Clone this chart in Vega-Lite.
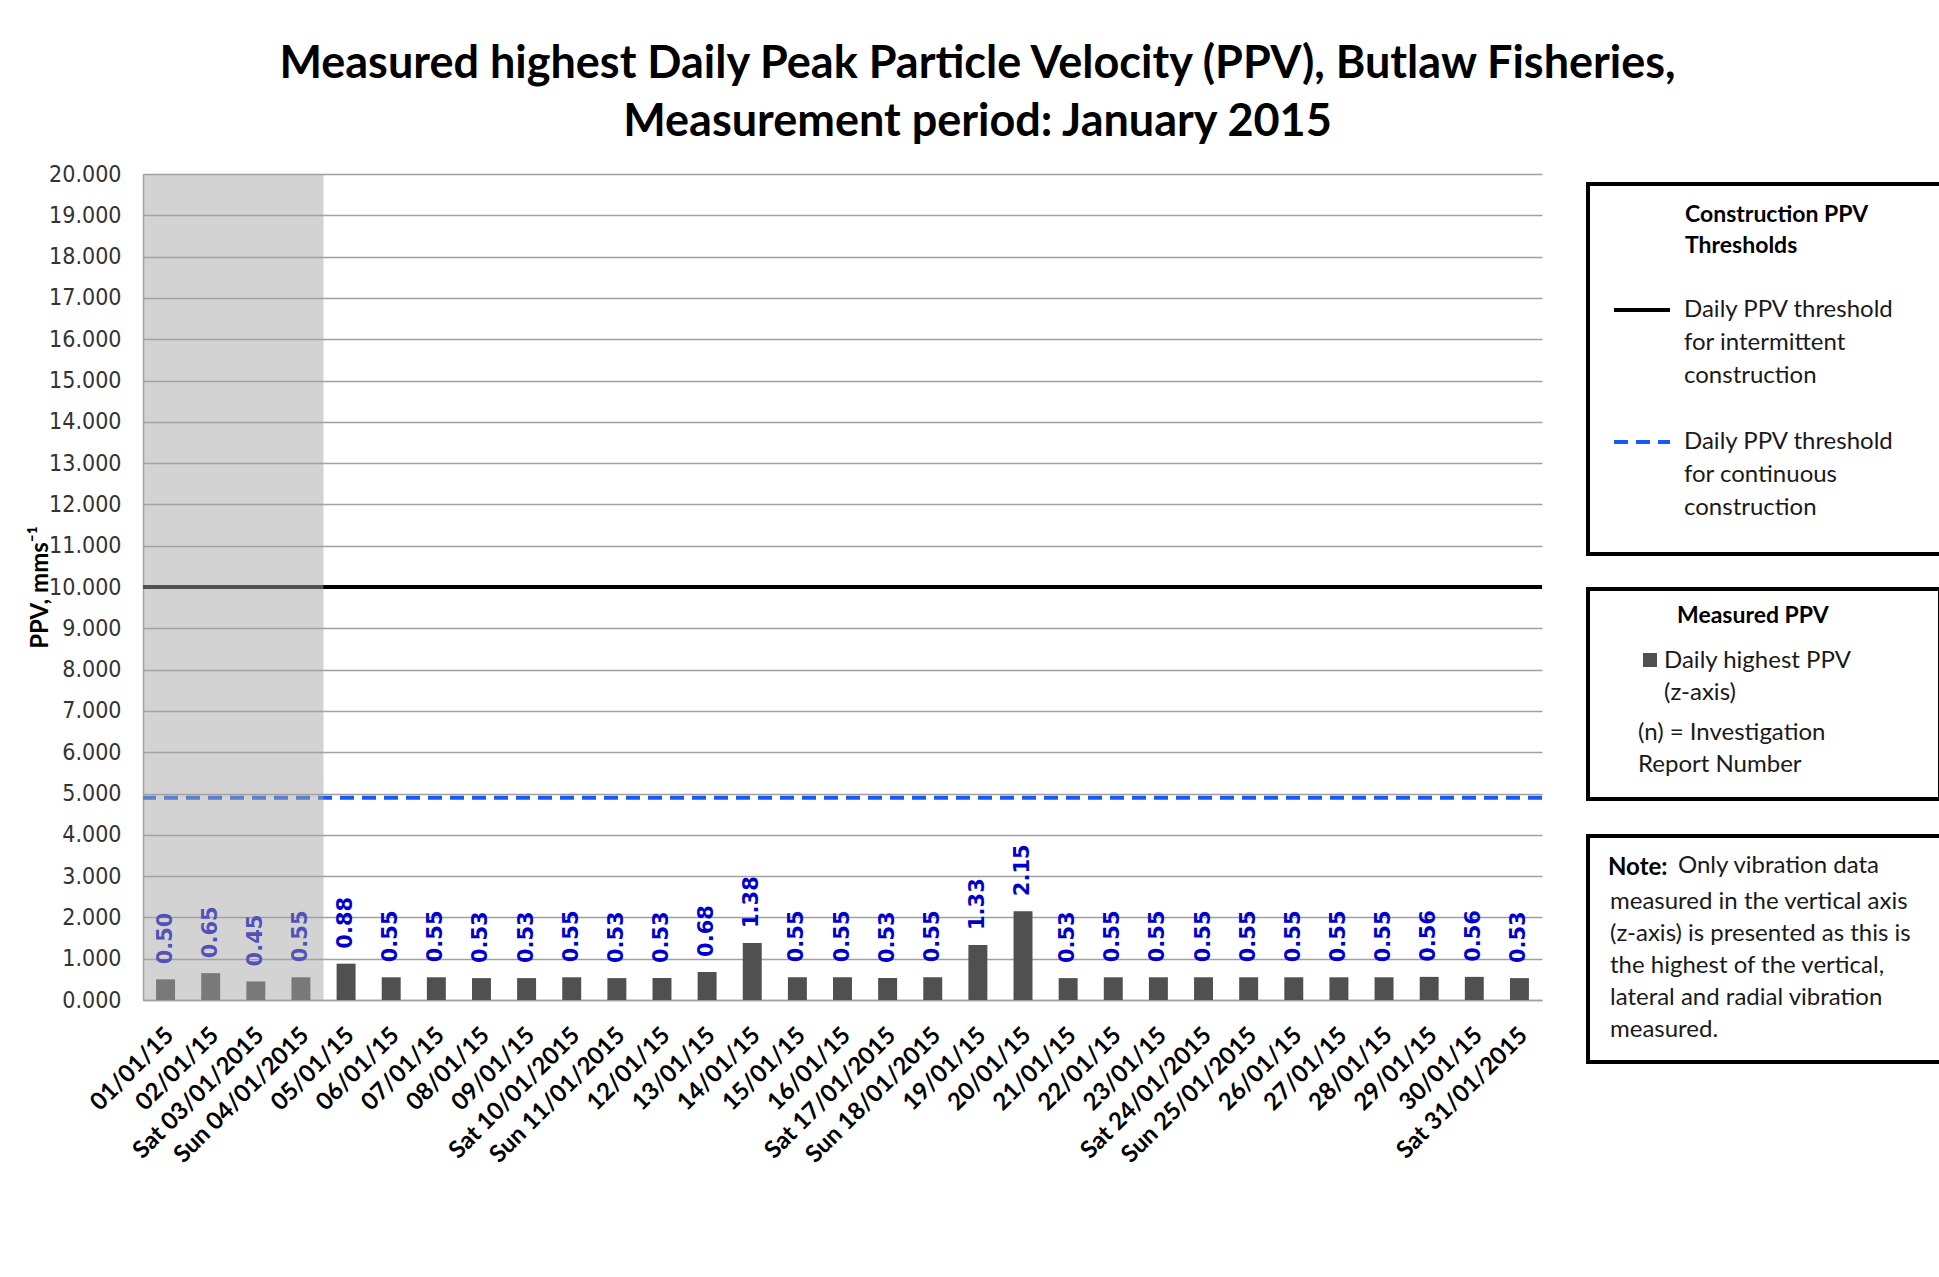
{
  "$schema": "https://vega.github.io/schema/vega-lite/v6.json",
  "width": 1399,
  "height": 826,
  "autosize": {"type": "none"},
  "padding": {"left": 143, "top": 174, "right": 397, "bottom": 277},
  "background": "white",
  "title": {
    "text": ["Measured highest Daily Peak Particle Velocity (PPV), Butlaw Fisheries,", "Measurement period: January 2015"],
    "font": "Lato", "fontSize": 45, "fontWeight": "bold", "color": "#000000",
    "anchor": "middle", "frame": "group", "dx": 135, "offset": 18, "lineHeight": 58
  },
  "data": {"values": [
    {"day": "01/01/15", "ppv": 0.50},
    {"day": "02/01/15", "ppv": 0.65},
    {"day": "Sat 03/01/2015", "ppv": 0.45},
    {"day": "Sun 04/01/2015", "ppv": 0.55},
    {"day": "05/01/15", "ppv": 0.88},
    {"day": "06/01/15", "ppv": 0.55},
    {"day": "07/01/15", "ppv": 0.55},
    {"day": "08/01/15", "ppv": 0.53},
    {"day": "09/01/15", "ppv": 0.53},
    {"day": "Sat 10/01/2015", "ppv": 0.55},
    {"day": "Sun 11/01/2015", "ppv": 0.53},
    {"day": "12/01/15", "ppv": 0.53},
    {"day": "13/01/15", "ppv": 0.68},
    {"day": "14/01/15", "ppv": 1.38},
    {"day": "15/01/15", "ppv": 0.55},
    {"day": "16/01/15", "ppv": 0.55},
    {"day": "Sat 17/01/2015", "ppv": 0.53},
    {"day": "Sun 18/01/2015", "ppv": 0.55},
    {"day": "19/01/15", "ppv": 1.33},
    {"day": "20/01/15", "ppv": 2.15},
    {"day": "21/01/15", "ppv": 0.53},
    {"day": "22/01/15", "ppv": 0.55},
    {"day": "23/01/15", "ppv": 0.55},
    {"day": "Sat 24/01/2015", "ppv": 0.55},
    {"day": "Sun 25/01/2015", "ppv": 0.55},
    {"day": "26/01/15", "ppv": 0.55},
    {"day": "27/01/15", "ppv": 0.55},
    {"day": "28/01/15", "ppv": 0.55},
    {"day": "29/01/15", "ppv": 0.56},
    {"day": "30/01/15", "ppv": 0.56},
    {"day": "Sat 31/01/2015", "ppv": 0.53}
  ]},
  "layer": [
    {
      "mark": {"type": "bar", "width": {"band": 0.42}},
      "encoding": {
        "x": {
          "field": "day", "type": "nominal", "sort": null, "title": null,
          "scale": {"paddingInner": 0, "paddingOuter": 0, "domain": ["01/01/15","02/01/15","Sat 03/01/2015","Sun 04/01/2015","05/01/15","06/01/15","07/01/15","08/01/15","09/01/15","Sat 10/01/2015","Sun 11/01/2015","12/01/15","13/01/15","14/01/15","15/01/15","16/01/15","Sat 17/01/2015","Sun 18/01/2015","19/01/15","20/01/15","21/01/15","22/01/15","23/01/15","Sat 24/01/2015","Sun 25/01/2015","26/01/15","27/01/15","28/01/15","29/01/15","30/01/15","Sat 31/01/2015"]},
          "axis": {
            "labelAngle": -45, "labelAlign": "right", "labelBaseline": "top",
            "labelPadding": 23, "labelOffset": -4, "ticks": false,
            "labelFont": "Lato", "labelFontSize": 24, "labelFontWeight": "bold", "labelColor": "#000000",
            "labelLimit": 400, "labelOverlap": false,
            "domainColor": "#a0a0a0", "domainWidth": 1.5, "grid": false
          }
        },
        "y": {
          "field": "ppv", "type": "quantitative",
          "scale": {"domain": [0, 20], "nice": false, "zero": true},
          "axis": {
            "title": "PPV, mms⁻¹", "titleFont": "Lato", "titleFontSize": 24, "titleFontWeight": "bold", "titleColor": "#000000",
            "titleAngle": 270, "titleX": -103, "titleY": 413, "titleAlign": "center", "titleBaseline": "middle",
            "tickCount": 20, "format": ".3f", "ticks": false,
            "labelFont": "DejaVu Sans Condensed, DejaVu Sans", "labelFontSize": 23, "labelColor": "#333333", "labelPadding": 22, "labelOverlap": false,
            "grid": true, "gridColor": "#a0a0a0", "gridWidth": 1.3,
            "domainColor": "#a0a0a0", "domainWidth": 1.5
          }
        },
        "color": {
          "datum": "Daily highest PPV|(z-axis)",
          "scale": {"domain": ["Daily highest PPV|(z-axis)", "(n) = Investigation|Report Number"], "range": ["#505050", "rgba(0,0,0,0)"]},
          "legend": {
            "title": "Measured PPV\u00a0\u00a0\u00a0\u00a0\u00a0\u00a0\u00a0\u00a0\u00a0\u00a0\u00a0\u00a0\u00a0\u00a0\u00a0\u00a0\u200b",
            "orient": "none", "legendX": 1445, "legendY": 415,
            "symbolType": "square", "symbolSize": 196, "symbolOffset": 28, "symbolStrokeWidth": 0,
            "labelExpr": "split(datum.label, '|')",
            "labelFont": "Lato", "labelFontSize": 24, "labelColor": "#1a1a1a", "labelLimit": 600, "labelOffset": 2, "labelBaseline": "top",
            "titleFont": "Lato", "titleFontSize": 23, "titleFontWeight": "bold", "titleColor": "#000000", "titleLimit": 1000, "titlePadding": 14,
            "padding": 22, "rowPadding": 15,
            "strokeColor": "#000000",
            "encode": {
              "legend": {"update": {"strokeWidth": {"value": 4}}},
              "title": {"update": {"dx": {"value": 67}, "dy": {"value": -6}}},
              "labels": {"update": {"lineHeight": {"value": 32}, "dy": {"value": -11}, "dx": {"signal": "datum.value === '(n) = Investigation|Report Number' ? -26 : 0"}}}
            }
          }
        }
      }
    },
    {
      "mark": {"type": "text", "angle": 270, "align": "left", "baseline": "middle", "dx": 15, "font": "DejaVu Sans", "fontWeight": "bold", "fontSize": 21, "color": "#0000CC"},
      "encoding": {
        "x": {"field": "day", "type": "nominal", "sort": null},
        "y": {"field": "ppv", "type": "quantitative"},
        "text": {"field": "ppv", "type": "quantitative", "format": ".2f"}
      }
    },
    {
      "data": {"values": [
        {"series": "Daily PPV threshold|for intermittent|construction", "threshold": 10},
        {"series": "Daily PPV threshold|for continuous|construction", "threshold": 4.9}
      ]},
      "mark": {"type": "rule", "strokeWidth": 4},
      "encoding": {
        "y": {"field": "threshold", "type": "quantitative"},
        "color": {
          "field": "series", "type": "nominal",
          "scale": {"domain": ["Daily PPV threshold|for intermittent|construction", "Daily PPV threshold|for continuous|construction"], "range": ["#000000", "#155CF5"]},
          "legend": {
            "title": ["Construction PPV\u00a0\u00a0\u00a0\u00a0\u00a0\u00a0\u00a0\u00a0\u00a0\u200b", "Thresholds"],
            "orient": "none", "legendX": 1445, "legendY": 10,
            "symbolType": "stroke", "symbolSize": 3136, "symbolStrokeWidth": 4, "symbolOffset": -10,
            "labelExpr": "split(datum.label, '|')",
            "labelFont": "Lato", "labelFontSize": 24, "labelColor": "#1a1a1a", "labelLimit": 600, "labelOffset": 12, "labelBaseline": "middle",
            "titleFont": "Lato", "titleFontSize": 23, "titleFontWeight": "bold", "titleColor": "#000000", "titleLimit": 1000, "titleLineHeight": 31, "titlePadding": 8,
            "padding": 34, "rowPadding": 24,
            "strokeColor": "#000000",
            "encode": {
              "legend": {"update": {"strokeWidth": {"value": 4}}},
              "title": {"update": {"dx": {"value": 63}, "dy": {"value": -14}}},
              "labels": {"update": {"lineHeight": {"value": 33}}},
              "symbols": {"update": {"strokeDash": {"signal": "datum.value === 'Daily PPV threshold|for continuous|construction' ? [14, 8] : [1, 0]"}}}
            }
          }
        },
        "strokeDash": {
          "field": "series", "type": "nominal",
          "scale": {"domain": ["Daily PPV threshold|for intermittent|construction", "Daily PPV threshold|for continuous|construction"], "range": [[1, 0], [14, 8]]},
          "legend": null
        }
      }
    },
    {
      "data": {"values": [{"start": "01/01/15", "end": "Sun 04/01/2015"}]},
      "mark": {"type": "rect"},
      "encoding": {
        "x": {"field": "start", "type": "nominal", "sort": null, "bandPosition": 0},
        "x2": {"field": "end", "bandPosition": 1},
        "y": {"datum": 20},
        "y2": {"datum": 0},
        "fill": {
          "datum": "Only vibration data\u00a0\u00a0\u00a0\u00a0\u00a0\u00a0\u00a0\u00a0\u00a0\u200b",
          "type": "nominal",
          "scale": {
            "domain": ["Only vibration data\u00a0\u00a0\u00a0\u00a0\u00a0\u00a0\u00a0\u00a0\u00a0\u200b", "measured in the vertical axis|(z-axis) is presented  as this is|the highest of the vertical,|lateral and radial vibration|measured."],
            "range": ["rgba(166,166,166,0.49)", "rgba(166,166,166,0.49)"]
          },
          "legend": {
            "title": "Note:",
            "orient": "none", "legendX": 1445, "legendY": 662,
            "symbolSize": 0, "symbolOpacity": 0, "symbolStrokeWidth": 0, "labelOffset": 0,
            "labelExpr": "split(datum.label, '|')",
            "labelFont": "Lato", "labelFontSize": 24, "labelColor": "#1a1a1a", "labelLimit": 800, "labelBaseline": "top",
            "titleFont": "Lato", "titleFontSize": 24, "titleFontWeight": "bold", "titleColor": "#000000", "titlePadding": -38,
            "padding": 20, "rowPadding": -2,
            "strokeColor": "#000000",
            "encode": {
              "legend": {"update": {"strokeWidth": {"value": 4}}},
              "labels": {"update": {"lineHeight": {"value": 32}, "dx": {"signal": "indexof(datum.value, 'Only vibration') >= 0 ? 46 : -22"}}}
            }
          }
        }
      }
    }
  ],
  "resolve": {"scale": {"color": "independent"}},
  "config": {
    "view": {"stroke": null},
    "font": "Lato"
  }
}
